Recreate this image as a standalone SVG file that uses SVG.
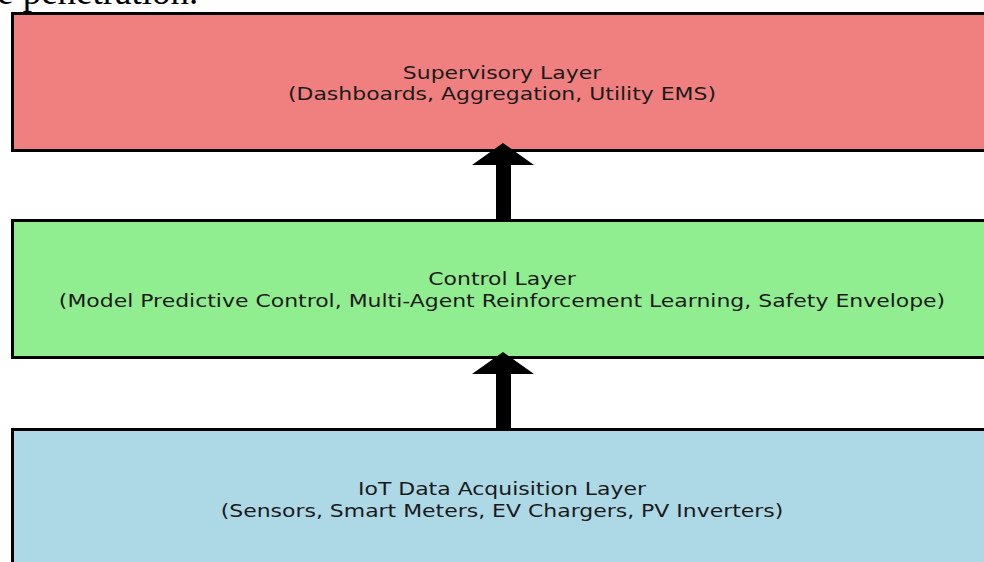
<svg xmlns="http://www.w3.org/2000/svg" width="984" height="562" viewBox="0 0 984 562">
  <style>
    .layer { stroke: #000; stroke-width: 3; }
    .label { font-family: "DejaVu Sans", sans-serif; font-size: 18px; fill: #1a1a1a; text-anchor: middle; }
    .arrow { fill: #000; }
    .caption { font-family: "Liberation Serif", "Times New Roman", serif; font-size: 37px; fill: #000; }
  </style>
  <rect width="984" height="562" fill="#fff"/>
  <text class="caption" x="-3" y="4">e penetration.</text>

  <g id="supervisory">
    <rect class="layer" x="12.5" y="13.5" width="980" height="137" fill="#F08080"/>
    <g transform="translate(502 0) scale(1.22 1)">
      <text class="label" x="0" y="79">Supervisory Layer</text>
      <text class="label" x="0" y="100">(Dashboards, Aggregation, Utility EMS)</text>
    </g>
  </g>

  <g id="control">
    <rect class="layer" x="12.5" y="220.5" width="980" height="137" fill="#90EE90"/>
    <g transform="translate(502 0) scale(1.22 1)">
      <text class="label" x="0" y="285">Control Layer</text>
      <text class="label" x="0" y="307">(Model Predictive Control, Multi-Agent Reinforcement Learning, Safety Envelope)</text>
    </g>
  </g>

  <g id="iot">
    <rect class="layer" x="12.5" y="429.5" width="980" height="150" fill="#ADD8E6"/>
    <g transform="translate(502 0) scale(1.22 1)">
      <text class="label" x="0" y="495">IoT Data Acquisition Layer</text>
      <text class="label" x="0" y="517">(Sensors, Smart Meters, EV Chargers, PV Inverters)</text>
    </g>
  </g>

  <g id="connectors">
    <polygon class="arrow" points="496,219 496,165 472,165 503,143 534,165 511,165 511,219"/>
    <polygon class="arrow" points="496,428 496,374 472,374 503,352 534,374 511,374 511,428"/>
  </g>
</svg>
